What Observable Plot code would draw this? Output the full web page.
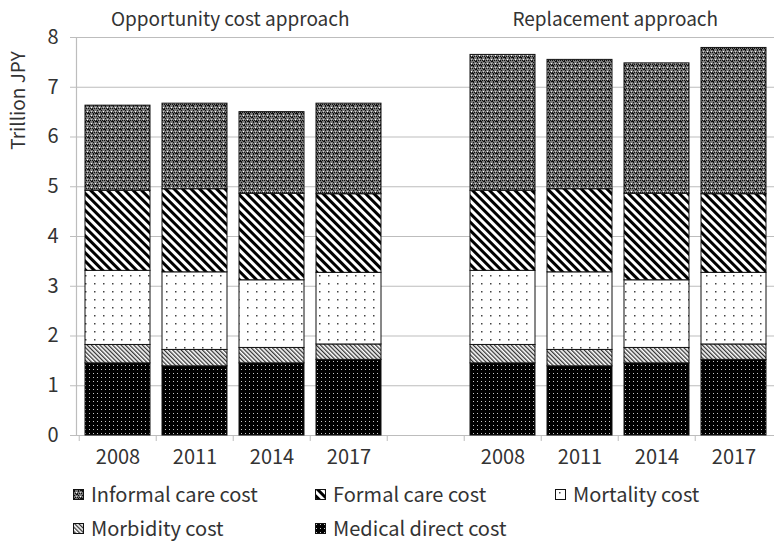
<!DOCTYPE html>
<html><head><meta charset="utf-8">
<script src="https://cdn.jsdelivr.net/npm/d3@7"></script>
<script src="https://cdn.jsdelivr.net/npm/@observablehq/plot@0.6"></script>
<style>
body{margin:0;background:#fff;font-family:"Noto Sans CJK JP","Noto Sans",sans-serif;color:#333;}
#defs{position:absolute;width:0;height:0;overflow:hidden;}
#legend{display:grid;grid-template-columns:242px 240px auto;margin-left:73px;margin-top:2px;font-size:20px;line-height:34px;}
#legend .item{display:flex;align-items:center;white-space:nowrap;height:34px;}
#legend svg{margin-right:7px;flex:none;}
</style></head><body>
<svg id="defs" width="0" height="0">
<defs>
<pattern id="p-informal" patternUnits="userSpaceOnUse" width="8" height="8">
<rect width="8" height="8" fill="#787878"/>
<g fill="#111">
<rect x="0" y="0" width="1" height="1"/><rect x="2" y="0" width="1" height="1"/><rect x="4" y="0" width="1" height="1"/><rect x="6" y="0" width="1" height="1"/>
<rect x="1" y="1" width="1" height="1"/><rect x="5" y="1" width="1" height="1"/>
<rect x="1" y="2" width="1" height="1"/><rect x="5" y="2" width="1" height="1"/>
<rect x="0" y="4" width="1" height="1"/><rect x="2" y="4" width="1" height="1"/><rect x="4" y="4" width="1" height="1"/><rect x="6" y="4" width="1" height="1"/>
<rect x="1" y="6" width="1" height="1"/><rect x="5" y="6" width="1" height="1"/>
<rect x="0" y="1" width="1" height="1"/><rect x="4" y="5" width="1" height="1"/>
<rect x="3" y="5" width="1" height="1"/><rect x="7" y="1" width="1" height="1"/>
</g>
<rect x="3" y="3" width="1" height="1" fill="#fff"/><rect x="7" y="7" width="1" height="1" fill="#fff"/>
<rect x="3" y="7" width="1" height="1" fill="#d0d0d0"/><rect x="7" y="3" width="1" height="1" fill="#d0d0d0"/>
</pattern>
<pattern id="p-formal" patternUnits="userSpaceOnUse" width="6" height="6" patternTransform="rotate(-45)">
<rect width="6" height="6" fill="#fff"/><rect width="3" height="6" fill="#000"/>
</pattern>
<pattern id="p-mortality" patternUnits="userSpaceOnUse" width="9" height="8">
<rect width="9" height="8" fill="#fff"/><rect x="4" y="3" width="1.5" height="1.5" fill="#444"/>
</pattern>
<pattern id="p-morbidity" patternUnits="userSpaceOnUse" width="3" height="3" patternTransform="rotate(-45)">
<rect width="3" height="3" fill="#fff"/><rect width="1.3" height="3" fill="#333"/>
</pattern>
<pattern id="p-medical" patternUnits="userSpaceOnUse" width="4" height="4">
<rect width="4" height="4" fill="#000"/><rect x="1" y="1" width="1" height="1" fill="#c8c8c8"/>
</pattern>
</defs>
</svg>
<div id="chart"></div>
<div id="legend"></div>
<script>
// ---- data ----
const approaches = ["Opportunity cost approach", "Replacement approach"];
const years = ["2008", "2011", "2014", "2017"];
const costTypes = ["Informal care cost", "Formal care cost", "Mortality cost", "Morbidity cost", "Medical direct cost"];
const stackOrder = ["Medical direct cost", "Morbidity cost", "Mortality cost", "Formal care cost", "Informal care cost"];
const medicalDirect = [1.45, 1.39, 1.45, 1.52];
const morbidity = [0.37, 0.33, 0.31, 0.31];
const mortality = [1.49, 1.56, 1.36, 1.44];
const formalCare = [1.61, 1.67, 1.74, 1.58];
const informalOpportunity = [1.71, 1.72, 1.64, 1.82];
const informalReplacement = [2.73, 2.60, 2.62, 2.94];
const yTicks = [0, 1, 2, 3, 4, 5, 6, 7, 8];
const patternFills = ["url(#p-informal)", "url(#p-formal)", "url(#p-mortality)", "url(#p-morbidity)", "url(#p-medical)"];

// ---- table ----
const slots = [];
const rows = [];
approaches.forEach((a, ai) => {
  years.forEach((yr, yi) => {
    const slot = a + "|" + yr;
    slots.push(slot);
    const informal = ai === 0 ? informalOpportunity[yi] : informalReplacement[yi];
    rows.push({slot, cost: "Medical direct cost", value: medicalDirect[yi]});
    rows.push({slot, cost: "Morbidity cost", value: morbidity[yi]});
    rows.push({slot, cost: "Mortality cost", value: mortality[yi]});
    rows.push({slot, cost: "Formal care cost", value: formalCare[yi]});
    rows.push({slot, cost: "Informal care cost", value: informal});
  });
  if (ai === 0) slots.push("gap");
});

const W = 774, H = 475, ML = 76, MR = 0, MT = 37, MB = 40;
const step = (W - ML - MR) / slots.length;

const chart = Plot.plot({
  width: W, height: H,
  marginLeft: ML, marginRight: MR, marginTop: MT, marginBottom: MB,
  style: {fontFamily: '"Noto Sans CJK JP","Noto Sans",sans-serif', fontSize: "20px", color: "#333", background: "#fff"},
  x: {type: "band", domain: slots, paddingInner: 0.16, paddingOuter: 0.08, label: null},
  y: {domain: [0, 8], label: null},
  color: {domain: costTypes, range: patternFills},
  marks: [
    Plot.gridY(yTicks, {stroke: "#bdbdbd", strokeOpacity: 1, strokeWidth: 1.2}),
    Plot.frame({anchor: "left", stroke: "#bdbdbd", strokeWidth: 1.2}),
    Plot.axisY(yTicks, {tickSize: 6, tickPadding: 12, stroke: "#bdbdbd", fontSize: 20, tickFormat: d3.format("d"), label: null}),
    Plot.axisX({tickSize: 6, tickFormat: () => "", dx: -step / 2, stroke: "#bdbdbd", label: null}),
    Plot.axisX({tickSize: 0, tickPadding: 14, fontSize: 20, tickFormat: k => (k.split("|")[1] || ""), label: null}),
    Plot.barY(rows, {x: "slot", y: "value", fill: "cost", order: stackOrder, stroke: "#111", strokeWidth: 1}),
    Plot.text(["Trillion JPY"], {frameAnchor: "top-left", rotate: -90, dx: -58, dy: 63, textAnchor: "middle", lineAnchor: "middle", fontSize: 19, fill: "#333"}),
    Plot.text(approaches, {
      x: (d, i) => d + "|2014", dx: -step / 2 - 3, frameAnchor: "top", dy: -18, lineAnchor: "middle",
      fontSize: 19, fill: "#333", textAnchor: "middle", style: "letter-spacing:0.3px"
    })
  ]
});
document.getElementById("chart").appendChild(chart);

// ---- legend ----
const legend = document.getElementById("legend");
costTypes.forEach((c, i) => {
  const item = document.createElement("div");
  item.className = "item";
  item.innerHTML = `<svg width="11" height="11"><rect x="0.5" y="0.5" width="10" height="10" fill="${patternFills[i]}" stroke="#111" stroke-width="1"/></svg><span>${c}</span>`;
  legend.appendChild(item);
});
</script>
</body></html>
